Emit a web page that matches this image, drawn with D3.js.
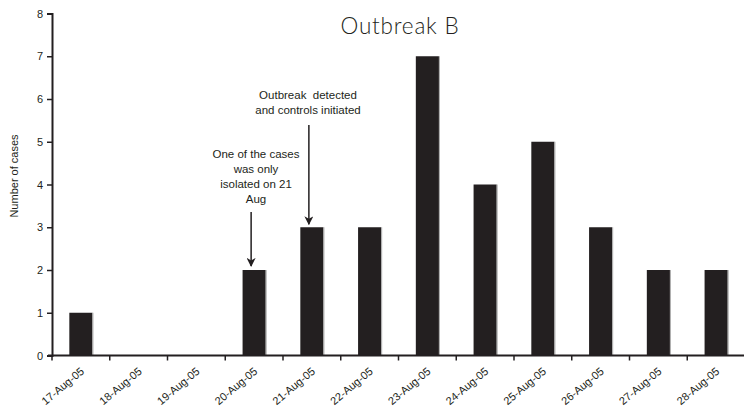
<!DOCTYPE html>
<html>
<head>
<meta charset="utf-8">
<script src="https://cdn.jsdelivr.net/npm/d3@7"></script>
<style>
  body { margin: 0; background: #fff; }
  svg { display: block; }
  text { font-family: "Liberation Sans", Arial, sans-serif; fill: #231f20; }
</style>
</head>
<body>
<div id="chart"></div>
<script>
// data
const dates = ['17-Aug-05', '18-Aug-05', '19-Aug-05', '20-Aug-05', '21-Aug-05', '22-Aug-05',
               '23-Aug-05', '24-Aug-05', '25-Aug-05', '26-Aug-05', '27-Aug-05', '28-Aug-05'];
const cases = [1, 0, 0, 2, 3, 3, 7, 4, 5, 3, 2, 2];
const yTicks = [0, 1, 2, 3, 4, 5, 6, 7, 8];

// annotations: which date they point at, text lines
const notes = [
    { date: '20-Aug-05', lines: ['One of the cases', 'was only', 'isolated on 21', 'Aug'] },
    { date: '21-Aug-05', lines: ['Outbreak  detected', 'and controls initiated'] }
];

const width = 744, height = 411;
const margin = { left: 52, right: -1, top: 13.5, bottom: 55.5 };

const svg = d3.select('#chart').append('svg')
    .attr('width', width)
    .attr('height', height);

const x = d3.scaleBand()
    .domain(dates)
    .range([margin.left, width - margin.right])
    .paddingInner(0.6)
    .paddingOuter(0.3);

const y = d3.scaleLinear()
    .domain([0, 8])
    .range([height - margin.bottom, margin.top]);

// bars
svg.append('g')
    .selectAll('rect')
    .data(dates)
    .enter()
    .append('rect')
    .attr('x', d => x(d))
    .attr('y', (d, i) => y(cases[i]))
    .attr('width', x.bandwidth())
    .attr('height', (d, i) => y(0) - y(cases[i]))
    .attr('fill', '#231f20');

// light edge on the right of each bar
svg.append('g')
    .selectAll('line')
    .data(dates.filter((d, i) => cases[i] > 0))
    .enter()
    .append('line')
    .attr('x1', d => x(d) + x.bandwidth() + 0.5)
    .attr('x2', d => x(d) + x.bandwidth() + 0.5)
    .attr('y1', d => y(cases[dates.indexOf(d)]))
    .attr('y2', y(0))
    .attr('stroke', '#aaa')
    .attr('stroke-width', 1);

// y axis
const yAxis = svg.append('g')
    .attr('transform', `translate(${margin.left},0)`)
    .call(d3.axisLeft(y).tickValues(yTicks).tickSize(5).tickPadding(4));
yAxis.select('.domain').attr('stroke', '#231f20').attr('stroke-width', 2);
yAxis.selectAll('.tick line').attr('stroke', '#231f20').attr('stroke-width', 1.5);
yAxis.selectAll('.tick text').attr('font-size', 11).style('font-family', '"Liberation Sans", Arial, sans-serif');

// x axis: ticks sit on the band boundaries
const xAxisG = svg.append('g')
    .attr('transform', `translate(0,${y(0)})`);
xAxisG.append('line')
    .attr('x1', margin.left - 4)
    .attr('x2', width)
    .attr('stroke', '#231f20')
    .attr('stroke-width', 2);
xAxisG.selectAll('.xtick')
    .data(dates)
    .enter()
    .append('line')
    .attr('x1', d => x(d) - x.bandwidth() * 0.75)
    .attr('x2', d => x(d) - x.bandwidth() * 0.75)
    .attr('y1', 0)
    .attr('y2', 5)
    .attr('stroke', '#231f20')
    .attr('stroke-width', 1.5);
xAxisG.selectAll('.xlabel')
    .data(dates)
    .enter()
    .append('text')
    .attr('text-anchor', 'end')
    .attr('font-size', 11)
    .attr('transform', d => `translate(${x(d) + x.bandwidth() / 2 + 4},${17}) rotate(-40)`)
    .text(d => d);

// y axis title
svg.append('text')
    .attr('transform', 'translate(18,176) rotate(-90)')
    .attr('text-anchor', 'middle')
    .attr('font-size', 11)
    .text('Number of cases');

// chart title
svg.append('text')
    .attr('x', 400)
    .attr('y', 34)
    .attr('text-anchor', 'middle')
    .attr('font-size', 22.5)
    .style('font-family', 'Lato, "Open Sans", sans-serif')
    .style('font-weight', 300)
    .style('letter-spacing', '0.8px')
    .text('Outbreak B');

// arrow marker
svg.append('defs').append('marker')
    .attr('id', 'arrow')
    .attr('viewBox', '0 0 10 10')
    .attr('refX', 9)
    .attr('refY', 5)
    .attr('markerWidth', 9)
    .attr('markerHeight', 9)
    .attr('markerUnits', 'userSpaceOnUse')
    .attr('orient', 'auto')
    .append('path')
    .attr('d', 'M0,0 L10,5 L0,10 L3,5 Z')
    .attr('fill', '#231f20');

// annotation 1
const n1 = notes[0];
const c1 = x(n1.date) + x.bandwidth() / 2 - 3;
svg.append('line')
    .attr('x1', c1).attr('x2', c1)
    .attr('y1', 212).attr('y2', y(cases[dates.indexOf(n1.date)]) - 4)
    .attr('stroke', '#231f20').attr('stroke-width', 1.5)
    .attr('marker-end', 'url(#arrow)');
svg.append('g').selectAll('text')
    .data(n1.lines)
    .enter()
    .append('text')
    .attr('x', 256)
    .attr('y', (d, i) => 158 + i * 15)
    .attr('text-anchor', 'middle')
    .attr('font-size', 11.5)
    .text(d => d);

// annotation 2
const n2 = notes[1];
const c2 = x(n2.date) + x.bandwidth() / 2 - 3;
svg.append('line')
    .attr('x1', c2).attr('x2', c2)
    .attr('y1', 125).attr('y2', y(cases[dates.indexOf(n2.date)]) - 3)
    .attr('stroke', '#231f20').attr('stroke-width', 1.5)
    .attr('marker-end', 'url(#arrow)');
svg.append('g').selectAll('text')
    .data(n2.lines)
    .enter()
    .append('text')
    .attr('x', 308)
    .attr('y', (d, i) => 99 + i * 15)
    .attr('text-anchor', 'middle')
    .attr('font-size', 11.5)
    .style('white-space', 'pre')
    .text(d => d);
</script>
</body>
</html>
